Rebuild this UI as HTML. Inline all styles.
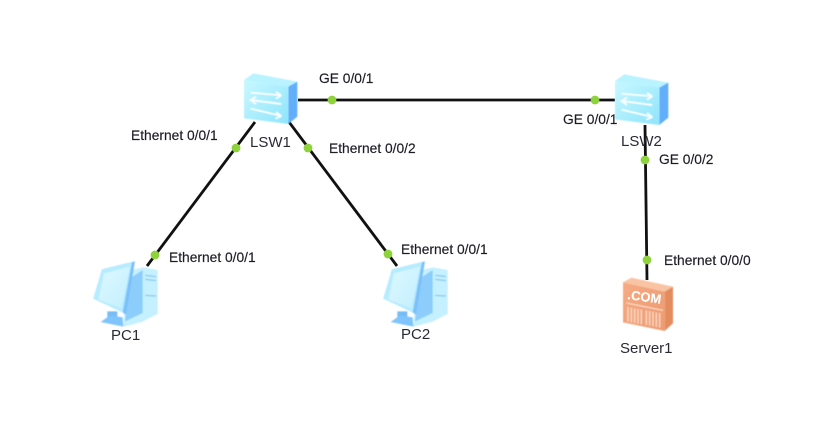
<!DOCTYPE html>
<html><head><meta charset="utf-8"><style>
html,body{margin:0;padding:0;background:#fff}
svg{display:block}
text{font-family:"Liberation Sans",sans-serif;font-size:13.8px;fill:#1c1c24;stroke:#1c1c24;stroke-width:.15}
text.n{font-size:15px;fill:#2a2a36;stroke:none}
</style></head><body>
<svg width="829" height="421" viewBox="0 0 829 421" xmlns="http://www.w3.org/2000/svg">
<defs>
<filter id="b" x="-10%" y="-10%" width="120%" height="120%"><feGaussianBlur stdDeviation="1.5"/></filter>
<linearGradient id="sw" x1="0" y1="0" x2="1" y2="1"><stop offset="0" stop-color="#c8f8ff"/><stop offset="1" stop-color="#8fe4fb"/></linearGradient>
<linearGradient id="srv" x1="0" y1="0" x2="1" y2="1"><stop offset="0" stop-color="#f6ab84"/><stop offset="1" stop-color="#ec9a70"/></linearGradient>
<linearGradient id="scr" x1="0" y1="0" x2="1" y2="1"><stop offset="0" stop-color="#dcf8ff"/><stop offset="1" stop-color="#c4f0fe"/></linearGradient>
<g id="switch" transform="scale(.3333)" filter="url(#b)">
<polygon points="12,30 40,10 172,35 145,50" fill="#b8f3ff"/>
<polygon points="145,50 172,35 172,140 145,162" fill="#62aefb"/>
<polygon points="12,30 145,50 145,162 12,145" fill="url(#sw)"/>
<g fill="none" stroke="#fff" stroke-width="5">
<path d="M32,68 L124,76 L108,66 M124,76 L108,86"/>
<path d="M124,102 L32,90 L48,80 M32,90 L48,102"/>
<path d="M32,116 L124,138 L108,126 M124,138 L106,146"/>
</g>
</g>
<g id="pc" transform="scale(.3333)" filter="url(#b)">
<polygon points="130,35 160,28 203,36 203,168 155,192 100,206 105,120" fill="#c4f0ff"/>
<polygon points="122,60 158,36 158,165 105,190" fill="#8ccdfc"/>
<path d="M166,52 L198,56 M166,64 L198,68 M166,112 L198,114" stroke="#7cc0e8" stroke-width="3" fill="none"/>
<polygon points="52,160 82,160 82,196 52,190" fill="#76bcf6"/>
<polygon points="60,172 98,178 100,206 32,192" fill="#7fc4fb"/>
<polygon points="10,122 36,34 135,10 108,170 90,158" fill="#7cc0fa"/>
<polygon points="10,122 36,34 126,12 98,164" fill="#b6ecff"/>
<polygon points="25,125 42,46 120,26 94,150" fill="url(#scr)"/>
</g>
<g id="server" transform="scale(.3333)" filter="url(#b)">
<polygon points="15,22 40,8 165,35 140,50" fill="#f9c4a4"/>
<polygon points="140,50 165,35 165,145 140,168" fill="#e58c5e"/>
<polygon points="15,22 140,50 140,168 15,142" fill="url(#srv)"/>
<path d="M25,84 L135,106" stroke="#fde2d0" stroke-width="3" fill="none"/>
<g stroke="#fbd6c0" stroke-width="4.5">
<path d="M30,96V140M40,98V142M50,100V144M60,102V146M70,104V148M85,106V150M95,108V152M105,110V154M115,112V156M125,114V158"/>
</g>
</g>
</defs>

<g stroke="#111" stroke-width="2.8" fill="none">
<line x1="298" y1="100" x2="615" y2="100"/>
<line x1="255" y1="122" x2="147" y2="266"/>
<line x1="289" y1="122" x2="397" y2="266"/>
<line x1="645" y1="125" x2="647" y2="280"/>
</g>

<use href="#switch" x="240" y="70"/>
<use href="#switch" x="611" y="71"/>
<use href="#pc" x="90" y="258"/>
<use href="#pc" x="380" y="258"/>
<use href="#server" x="618" y="275"/>
<text x="627" y="299" transform="rotate(8 627 299)" style="font-size:13px;font-weight:bold;fill:#fff;stroke:#fff">.COM</text>

<g fill="#8ed23c">
<circle cx="332" cy="100" r="4.4"/>
<circle cx="595" cy="100" r="4.4"/>
<circle cx="236" cy="148" r="4.4"/>
<circle cx="308" cy="148" r="4.4"/>
<circle cx="155" cy="255" r="4.4"/>
<circle cx="388" cy="254" r="4.4"/>
<circle cx="645" cy="160" r="4.4"/>
<circle cx="647" cy="260" r="4.4"/>
</g>

<text x="319" y="83">GE 0/0/1</text>
<text x="563" y="124">GE 0/0/1</text>
<text x="131" y="140">Ethernet 0/0/1</text>
<text x="329" y="153">Ethernet 0/0/2</text>
<text x="169" y="262">Ethernet 0/0/1</text>
<text x="401" y="254">Ethernet 0/0/1</text>
<text x="659" y="164">GE 0/0/2</text>
<text x="664" y="265">Ethernet 0/0/0</text>
<text class="n" x="250" y="147">LSW1</text>
<text class="n" x="621" y="146">LSW2</text>
<text class="n" x="111" y="340">PC1</text>
<text class="n" x="401" y="339">PC2</text>
<text class="n" x="620" y="353">Server1</text>
</svg>
</body></html>
